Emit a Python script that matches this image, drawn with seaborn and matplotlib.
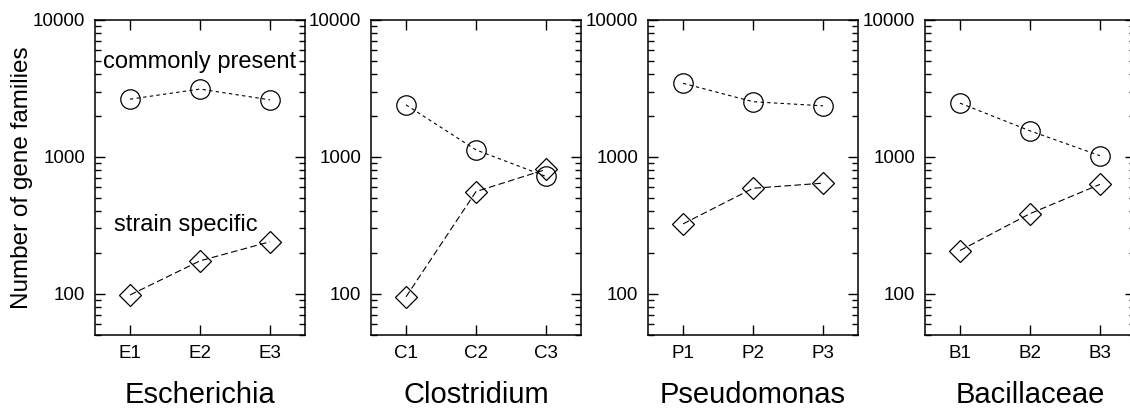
import matplotlib
matplotlib.use("Agg")
import matplotlib.pyplot as plt
import matplotlib.ticker as mticker
import numpy as np
import pandas as pd
import seaborn as sns

# ---- data ----
groups = ["Escherichia", "Clostridium", "Pseudomonas", "Bacillaceae"]
strains = [["E1", "E2", "E3"], ["C1", "C2", "C3"], ["P1", "P2", "P3"], ["B1", "B2", "B3"]]
common_present = [[2640, 3130, 2610], [2400, 1125, 720], [3450, 2530, 2360], [2470, 1550, 1020]]
strain_specific = [[98, 174, 240], [95, 558, 810], [324, 590, 643], [207, 385, 630]]
series_names = ["commonly present", "strain specific"]
y_ticks = [100, 1000, 10000]
y_label = "Number of gene families"

sns.set_theme(style="white")
plt.rcParams["font.family"] = ["Liberation Sans", "DejaVu Sans"]

W, H = 1130, 408
fig = plt.figure(figsize=(W / 100, H / 100), dpi=100)

lefts = [95, 371, 648, 925]
pw, top, bottom = 210, 20, 335

for i, g in enumerate(groups):
    ax = fig.add_axes([lefts[i] / W, 1 - bottom / H, pw / W, (bottom - top) / H])
    rows = []
    for j, s in enumerate(strains[i]):
        rows.append({"strain": s, "series": series_names[0], "value": common_present[i][j]})
        rows.append({"strain": s, "series": series_names[1], "value": strain_specific[i][j]})
    df = pd.DataFrame(rows)
    sns.lineplot(
        data=df, x="strain", y="value", style="series", ax=ax,
        markers={series_names[0]: "o", series_names[1]: "D"},
        dashes={series_names[0]: (3, 3), series_names[1]: (6, 3)},
        color="black", linewidth=0.8, markersize=14,
        markerfacecolor="none", markeredgecolor="black", markeredgewidth=0.9,
        sort=False, legend=False,
    )
    for line in ax.get_lines():
        if line.get_marker() == "D":
            line.set_markersize(11)
    ax.set_yscale("log")
    ax.set_ylim(50, 10000)
    ax.set_xlim(-0.5, 2.5)
    ax.set_yticks(y_ticks)
    ax.yaxis.set_major_formatter(mticker.FuncFormatter(lambda v, p: f"{int(round(v))}"))
    ax.yaxis.set_minor_locator(mticker.LogLocator(base=10, subs=np.arange(2, 10)))
    ax.yaxis.set_minor_formatter(mticker.NullFormatter())
    ax.tick_params(axis="both", which="both", direction="in", top=True, right=True,
                   bottom=True, left=True, colors="black", labelsize=13.5)
    ax.tick_params(axis="both", which="major", length=7, width=1.0, pad=7)
    ax.tick_params(axis="y", which="minor", length=4, width=1.0)
    for sp in ax.spines.values():
        sp.set_color("black")
        sp.set_linewidth(1.1)
    ax.set_xlabel(g, fontsize=21, labelpad=14, color="black")
    if i == 0:
        ax.set_ylabel(y_label, fontsize=17.5, labelpad=0, color="black")
        ax.text(1.0, 4900, series_names[0], fontsize=17, ha="center", va="center", color="black")
        ax.text(0.8, 320, series_names[1], fontsize=17, ha="center", va="center", color="black")
    else:
        ax.set_ylabel("")
    ax.grid(False)

fig.savefig("out.png", dpi=100, facecolor="white")
